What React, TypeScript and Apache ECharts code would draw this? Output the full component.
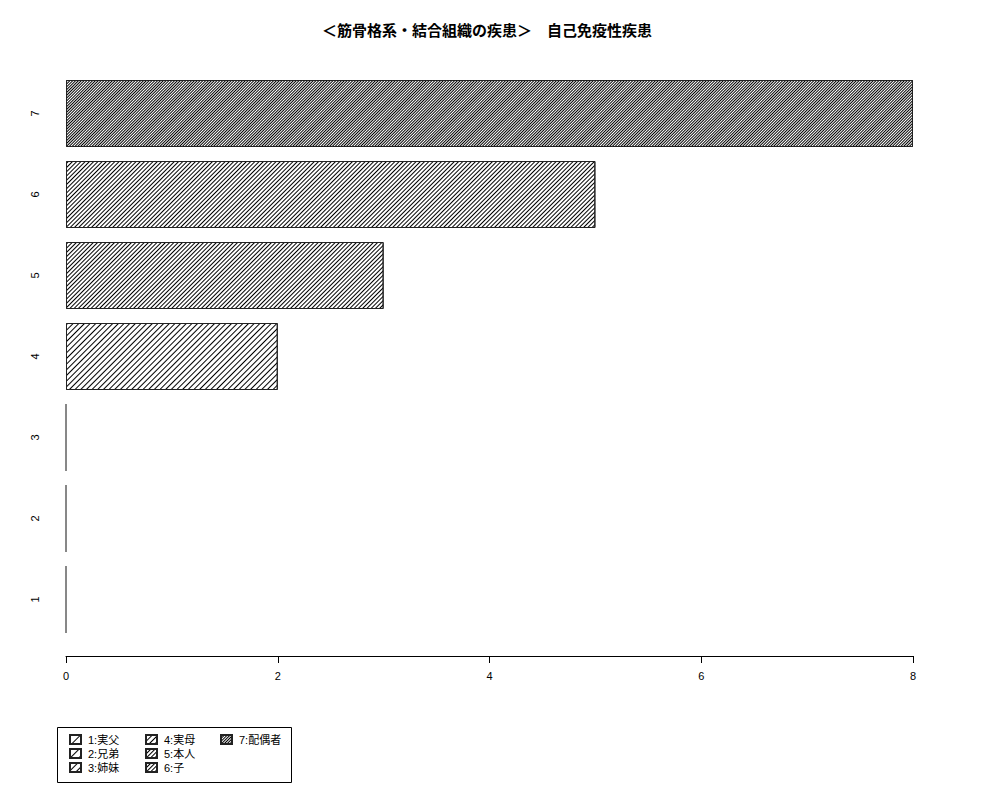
import React, { useEffect, useRef } from 'react';
import * as echarts from 'echarts';

const categories = ['1', '2', '3', '4', '5', '6', '7'];
const legendNames = ['1:実父', '2:兄弟', '3:姉妹', '4:実母', '5:本人', '6:子', '7:配偶者'];
const values = [0, 0, 0, 2, 3, 5, 8];
// hatch gap (px) per category, denser for higher categories
const hatchGaps = [6, 5, 4, 3, 2, 2, 1];
const xTicks = [0, 2, 4, 6, 8];

const TITLE = '＜筋骨格系・結合組織の疾患＞　自己免疫性疾患';
const FONT = '"Liberation Sans", "Noto Sans CJK JP", sans-serif';

const App: React.FC = () => {
  const chartRef = useRef<HTMLDivElement>(null);

  useEffect(() => {
    if (!chartRef.current) return;
    const chart = echarts.init(chartRef.current, undefined, { renderer: 'svg' });

    const series = legendNames.map((name, i) => ({
      name,
      type: 'bar' as const,
      stack: 'all',
      barWidth: 67,
      data: categories.map((_, j) => {
        if (j !== i) return '-';
        // a zero bar collapses to its outline; draw it thinner/greyer like the original
        return values[i] === 0
          ? { value: 0, itemStyle: { borderColor: '#808080' } }
          : values[i];
      }),
      itemStyle: {
        color: '#ffffff',
        borderColor: '#222222',
        borderWidth: 1,
        decal: {
          symbol: 'rect',
          symbolSize: 1,
          dashArrayX: [1, 0],
          dashArrayY: [1, hatchGaps[i]],
          rotation: -Math.PI / 4,
          color: '#000000',
        },
      },
      emphasis: { disabled: true },
    }));

    const legendCols = [
      { names: legendNames.slice(0, 3), left: 69 },
      { names: legendNames.slice(3, 6), left: 145 },
      { names: legendNames.slice(6), left: 220 },
    ];

    const option: echarts.EChartsOption = {
      animation: false,
      textStyle: { fontFamily: FONT },
      grid: { left: 66, right: 87, top: 73, bottom: 160, containLabel: false },
      legend: legendCols.map((c) => ({
        data: c.names.map((n) => ({ name: n, icon: 'rect' })),
        orient: 'vertical',
        left: c.left,
        top: 734,
        padding: 0,
        itemGap: 3,
        itemWidth: 11,
        itemHeight: 9,
        selectedMode: false,
        textStyle: { fontSize: 11, color: '#000', fontFamily: FONT, padding: [0, 0, 0, 2] },
      })),
      xAxis: {
        type: 'value',
        min: xTicks[0],
        max: xTicks[xTicks.length - 1],
        interval: 2,
        offset: 16,
        axisLine: { show: true, lineStyle: { color: '#000', width: 1 } },
        axisTick: { show: true, length: 7, lineStyle: { color: '#000' } },
        axisLabel: { fontSize: 11, color: '#000', margin: 14, fontFamily: FONT },
        splitLine: { show: false },
      },
      yAxis: {
        type: 'category',
        data: categories,
        axisLine: { show: false },
        axisTick: { show: false },
        axisLabel: { rotate: 90, fontSize: 11, color: '#000', margin: 26, fontFamily: FONT },
      },
      graphic: [
        {
          type: 'text',
          x: 487,
          y: 29,
          style: {
            text: TITLE,
            fontSize: 15,
            fontWeight: 'bold',
            fontFamily: '"Noto Sans CJK JP", sans-serif',
            fill: '#000',
            textAlign: 'center',
            textVerticalAlign: 'middle',
          },
        },
        {
          type: 'rect',
          shape: { x: 57.5, y: 727.5, width: 234, height: 55 },
          style: { fill: 'none', stroke: '#000', lineWidth: 1 },
        },
      ],
      series,
    };

    chart.setOption(option);

    return () => {
      chart.dispose();
    };
  }, []);

  return (
    <div
      ref={chartRef}
      style={{ position: 'absolute', left: 0, top: 0, width: '1000px', height: '800px', background: '#fff' }}
    />
  );
};

export default App;
